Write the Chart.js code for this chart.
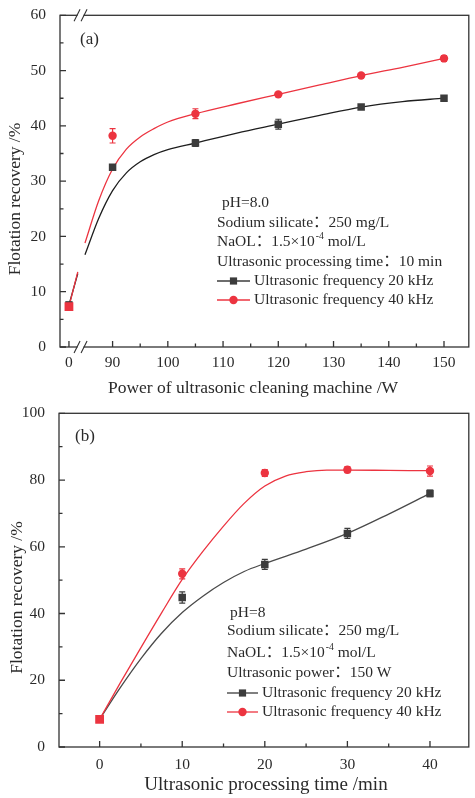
<!DOCTYPE html>
<html lang="en">
<head>
<meta charset="UTF-8">
<title>Flotation recovery - ultrasonic treatment</title>
<script src="https://cdn.jsdelivr.net/npm/chart.js@4"></script>
<style>
  html, body { margin: 0; padding: 0; background: #fff; }
  body { width: 475px; height: 798px; position: relative; overflow: hidden; }
  .box { position: absolute; left: 0; width: 475px; }
  #boxA { top: 0; height: 398px; }
  #boxB { top: 398px; height: 400px; }
</style>
</head>
<body>
<div class="box" id="boxA"><canvas id="chartA"></canvas></div>
<div class="box" id="boxB"><canvas id="chartB"></canvas></div>
<script>
// ---------- (a) power of the cleaning machine ----------
const powerW = [0, 90, 105, 120, 135, 150];
const recA20 = [7.6, 32.5, 36.9, 40.3, 43.4, 45.0];
const recA40 = [7.3, 38.2, 42.2, 45.7, 49.1, 52.2];
const errA20 = [0.5, 0.5, 0.6, 0.9, 0.4, 0.4];
const errA40 = [0.5, 1.3, 0.9, 0.3, 0.3, 0.5];
// fitted curves (null = axis break)
const fitA20x = [0, 1.6, 84, 85, 87.5, 90, 92.5, 95, 97.5, 100, 105, 112.5, 120, 127.5, 135, 142.5, 150];
const fitA20y = [7.6, 13.3, null, 16.7, 23.3, 28.3, 31.5, 33.5, 34.8, 35.7, 36.9, 38.7, 40.3, 41.9, 43.4, 44.4, 45.0];
const fitA40x = [0, 1.6, 84, 85, 87.5, 90, 92.5, 95, 97.5, 100, 105, 112.5, 120, 127.5, 135, 142.5, 150];
const fitA40y = [7.3, 13.6, null, 18.8, 26.5, 32.2, 35.8, 38.0, 39.5, 40.7, 42.2, 44.0, 45.7, 47.4, 49.1, 50.6, 52.2];
const xTicksA = [0, 90, 100, 110, 120, 130, 140, 150];
const xMinorA = [95, 105, 115, 125, 135, 145];
const yTicksA = [0, 10, 20, 30, 40, 50, 60];
const yMinorA = [5, 15, 25, 35, 45, 55];

// ---------- (b) processing time ----------
const timeMin = [0, 10, 20, 30, 40];
const recB20 = [8.3, 44.8, 54.7, 64.0, 76.0];
const recB40 = [8.3, 51.9, 82.1, 83.1, 82.7];
const errB20 = [0.5, 1.7, 1.5, 1.5, 1.0];
const errB40 = [0.5, 1.5, 1.0, 0.9, 1.5];
const fitB20x = [0, 2.5, 5, 7.5, 10, 12.5, 15, 17.5, 20, 25, 30, 35, 40];
const fitB20y = [8.3, 17.8, 26.5, 34.1, 40.3, 45.2, 49.3, 52.6, 55.0, 59.3, 64.0, 69.8, 76.0];
const fitB40x = [0, 2.5, 5, 7.5, 10, 12.5, 15, 17.5, 20, 22.5, 25, 27.5, 30, 35, 40];
const fitB40y = [8.3, 19.2, 29.8, 40.2, 50.2, 58.6, 66.2, 73.0, 78.2, 81.2, 82.5, 83.0, 83.0, 82.9, 82.8];
const xTicksB = [0, 10, 20, 30, 40];
const xMinorB = [5, 15, 25, 35];
const yTicksB = [0, 20, 40, 60, 80, 100];
const yMinorB = [10, 30, 50, 70, 90];

const SERIF = "'Liberation Serif', 'Noto Sans CJK SC', serif";
const INK = '#2a2a2a';
const RED = '#ec3440';
const DARK = '#3c3c3c';

// x axis of (a) is broken between 0 and 90: the 0..2 stretch sits just left of the break
const ZERO_A = 82.1;
const BREAK_A = 84.2;
const brkA = v => v < 50 ? ZERO_A + v : v;
const same = v => v;

const pts = (xs, ys, map) => xs.map((x, i) => ({ x: map(x), y: ys[i] }));

const font = (size) => size + 'px ' + SERIF;

// error bars drawn under the markers
const errorBars = {
  id: 'errorBars',
  beforeDatasetsDraw(chart) {
    const { ctx, scales: { y } } = chart;
    ctx.save();
    chart.data.datasets.forEach((ds, di) => {
      if (!ds.errors) return;
      const meta = chart.getDatasetMeta(di);
      ctx.strokeStyle = ds.backgroundColor;
      ctx.lineWidth = 1.2;
      meta.data.forEach((el, i) => {
        const e = ds.errors[i];
        const v = ds.data[i].y;
        const y1 = y.getPixelForValue(v + e), y2 = y.getPixelForValue(v - e);
        ctx.beginPath();
        ctx.moveTo(el.x, y1); ctx.lineTo(el.x, y2);
        ctx.moveTo(el.x - 3, y1); ctx.lineTo(el.x + 3, y1);
        ctx.moveTo(el.x - 3, y2); ctx.lineTo(el.x + 3, y2);
        ctx.stroke();
      });
    });
    ctx.restore();
  }
};

function drawRich(ctx, str, x, y, size) {
  // "^{..}" marks a superscript
  const parts = str.split(/\^\{(.*?)\}/);
  let cx = x;
  parts.forEach((p, i) => {
    if (!p) return;
    if (i % 2) {
      ctx.font = font(size * 0.62);
      ctx.fillText(p, cx + 1, y - size * 0.38);
      cx += ctx.measureText(p).width + 1;
    } else {
      ctx.font = font(size);
      ctx.fillText(p, cx, y);
      cx += ctx.measureText(p).width;
    }
  });
}

function makeDecor(s) {
  return {
    id: 'decor',
    afterDraw(chart) {
      const { ctx, chartArea: a, scales: { x, y } } = chart;
      ctx.save();
      ctx.strokeStyle = '#333';
      ctx.lineWidth = 1.3;
      ctx.strokeRect(a.left, a.top, a.right - a.left, a.bottom - a.top);
      ctx.beginPath();
      s.yMajor.forEach(v => { const p = y.getPixelForValue(v); ctx.moveTo(a.left, p); ctx.lineTo(a.left + 6, p); });
      s.yMinor.forEach(v => { const p = y.getPixelForValue(v); ctx.moveTo(a.left, p); ctx.lineTo(a.left + 3.5, p); });
      s.xMajor.forEach(v => { const p = x.getPixelForValue(s.map(v)); ctx.moveTo(p, a.bottom); ctx.lineTo(p, a.bottom - 6); });
      s.xMinor.forEach(v => { const p = x.getPixelForValue(s.map(v)); ctx.moveTo(p, a.bottom); ctx.lineTo(p, a.bottom - 3.5); });
      ctx.stroke();

      if (s.breakAt != null) {
        const bx = x.getPixelForValue(s.breakAt);
        [a.top, a.bottom].forEach(by => {
          ctx.fillStyle = '#fff';
          ctx.fillRect(bx - 3, by - 2, 6, 4);
          ctx.beginPath();
          ctx.moveTo(bx - 6.5, by + 6); ctx.lineTo(bx - 0.5, by - 6);
          ctx.moveTo(bx + 0.5, by + 6); ctx.lineTo(bx + 6.5, by - 6);
          ctx.lineWidth = 1.1;
          ctx.stroke();
        });
      }

      ctx.fillStyle = INK;
      ctx.textBaseline = 'middle';
      ctx.textAlign = 'center';
      ctx.font = font(s.xTitle.size);
      ctx.fillText(s.xTitle.text, s.xTitle.x, s.xTitle.y);
      ctx.save();
      ctx.translate(s.yTitle.x, s.yTitle.y);
      ctx.rotate(-Math.PI / 2);
      ctx.font = font(s.yTitle.size);
      ctx.fillText(s.yTitle.text, 0, 0);
      ctx.restore();

      ctx.textAlign = 'left';
      ctx.font = font(17);
      ctx.fillText(s.panel.text, s.panel.x, s.panel.y);

      s.notes.forEach(n => drawRich(ctx, n.text, n.x, n.y, 15.5));

      s.legend.forEach(l => {
        const ds = chart.data.datasets[l.ds];
        ctx.strokeStyle = ds.backgroundColor;
        ctx.lineWidth = 1.3;
        ctx.beginPath();
        ctx.moveTo(l.x0, l.y); ctx.lineTo(l.x1, l.y);
        ctx.stroke();
        ctx.fillStyle = ds.backgroundColor;
        const mx = (l.x0 + l.x1) / 2;
        ctx.beginPath();
        if (l.shape === 'rect') ctx.rect(mx - 3.6, l.y - 3.6, 7.2, 7.2);
        else ctx.arc(mx, l.y, 4.2, 0, Math.PI * 2);
        ctx.fill();
        ctx.fillStyle = INK;
        ctx.font = font(15.5);
        ctx.fillText(l.text, l.x1 + 4, l.y);
      });
      ctx.restore();
    }
  };
}

function makeChart(id, c) {
  return new Chart(document.getElementById(id), {
    type: 'scatter',
    data: {
      datasets: [
        { label: 'Ultrasonic frequency 40 kHz', data: pts(c.xs, c.r40, c.map), errors: c.e40,
          backgroundColor: RED, borderColor: RED, borderWidth: 0,
          pointStyle: c.xs.map((x, i) => i === 0 ? 'rect' : 'circle'),
          pointRadius: c.xs.map((x, i) => i === 0 ? 6.2 : 4.2), order: 0 },
        { label: 'Ultrasonic frequency 20 kHz', data: pts(c.xs, c.r20, c.map), errors: c.e20,
          backgroundColor: DARK, borderColor: DARK, borderWidth: 0,
          pointStyle: 'rect', pointRadius: 5.3, order: 1 },
        { label: 'fit 40', data: pts(c.f40x, c.f40y, c.map), showLine: true, pointRadius: 0,
          borderColor: RED, borderWidth: 1.3, cubicInterpolationMode: 'monotone', spanGaps: false, order: 2 },
        { label: 'fit 20', data: pts(c.f20x, c.f20y, c.map), showLine: true, pointRadius: 0,
          borderColor: c.blackLine, borderWidth: 1.3, cubicInterpolationMode: 'monotone', spanGaps: false, order: 3 }
      ]
    },
    options: {
      responsive: true,
      maintainAspectRatio: false,
      animation: false,
      layout: { padding: { left: 0, top: 14, right: 3, bottom: 0 } },
      plugins: { legend: { display: false }, tooltip: { enabled: false } },
      scales: {
        x: {
          type: 'linear', min: c.xMin, max: c.xMax,
          grid: { display: false }, border: { display: false },
          afterFit: s => { s.height = 51; },
          afterBuildTicks: s => { s.ticks = c.xTicks.map(v => ({ value: c.map(v) })); },
          ticks: { padding: c.xPad, color: INK, font: { family: SERIF, size: 15.5 }, maxRotation: 0, autoSkip: false,
                   callback: (v, i) => String(c.xTicks[i]) }
        },
        y: {
          type: 'linear', min: c.yTicks[0], max: c.yTicks[c.yTicks.length - 1],
          grid: { display: false }, border: { display: false },
          afterFit: s => { s.width = c.yWidth; },
          afterBuildTicks: s => { s.ticks = c.yTicks.map(v => ({ value: v })); },
          ticks: { padding: 6, color: INK, font: { family: SERIF, size: 15.5 }, callback: v => String(v) }
        }
      }
    },
    plugins: [errorBars, makeDecor(c.decor)]
  });
}

makeChart('chartA', {
  xs: powerW, r20: recA20, r40: recA40, e20: errA20, e40: errA40,
  f20x: fitA20x, f20y: fitA20y, f40x: fitA40x, f40y: fitA40y,
  map: brkA, xMin: 80.48, xMax: 154.49, xTicks: xTicksA, yTicks: yTicksA,
  xPad: -1, yWidth: 60, blackLine: '#1e1e1e',
  decor: {
    map: brkA, breakAt: BREAK_A,
    xMajor: xTicksA, xMinor: xMinorA, yMajor: yTicksA, yMinor: yMinorA,
    xTitle: { text: 'Power of ultrasonic cleaning machine /W', x: 253, y: 388, size: 17.5 },
    yTitle: { text: 'Flotation recovery /%', x: 15, y: 199, size: 17.5 },
    panel: { text: '(a)', x: 80, y: 40 },
    notes: [
      { text: 'pH=8.0', x: 222, y: 203 },
      { text: 'Sodium silicate：250 mg/L', x: 217, y: 223 },
      { text: 'NaOL：1.5×10^{-4} mol/L', x: 217, y: 242 },
      { text: 'Ultrasonic processing time：10 min', x: 217, y: 262 }
    ],
    legend: [
      { ds: 1, shape: 'rect', text: 'Ultrasonic frequency 20 kHz', x0: 217, x1: 250, y: 281 },
      { ds: 0, shape: 'circle', text: 'Ultrasonic frequency 40 kHz', x0: 217, x1: 250, y: 300 }
    ]
  }
});

makeChart('chartB', {
  xs: timeMin, r20: recB20, r40: recB40, e20: errB20, e40: errB40,
  f20x: fitB20x, f20y: fitB20y, f40x: fitB40x, f40y: fitB40y,
  map: same, xMin: -4.92, xMax: 44.7, xTicks: xTicksB, yTicks: yTicksB,
  xPad: 1, yWidth: 59, blackLine: '#4a4a4a',
  decor: {
    map: same, breakAt: null,
    xMajor: xTicksB, xMinor: xMinorB, yMajor: yTicksB, yMinor: yMinorB,
    xTitle: { text: 'Ultrasonic processing time /min', x: 266, y: 387, size: 19 },
    yTitle: { text: 'Flotation recovery /%', x: 17, y: 199.5, size: 17.5 },
    panel: { text: '(b)', x: 75, y: 39 },
    notes: [
      { text: 'pH=8', x: 230, y: 214.5 },
      { text: 'Sodium silicate：250 mg/L', x: 227, y: 233 },
      { text: 'NaOL：1.5×10^{-4} mol/L', x: 227, y: 255 },
      { text: 'Ultrasonic power：150 W', x: 227, y: 274.5 }
    ],
    legend: [
      { ds: 1, shape: 'rect', text: 'Ultrasonic frequency 20 kHz', x0: 227, x1: 258, y: 295 },
      { ds: 0, shape: 'circle', text: 'Ultrasonic frequency 40 kHz', x0: 227, x1: 258, y: 314 }
    ]
  }
});
</script>
</body>
</html>
